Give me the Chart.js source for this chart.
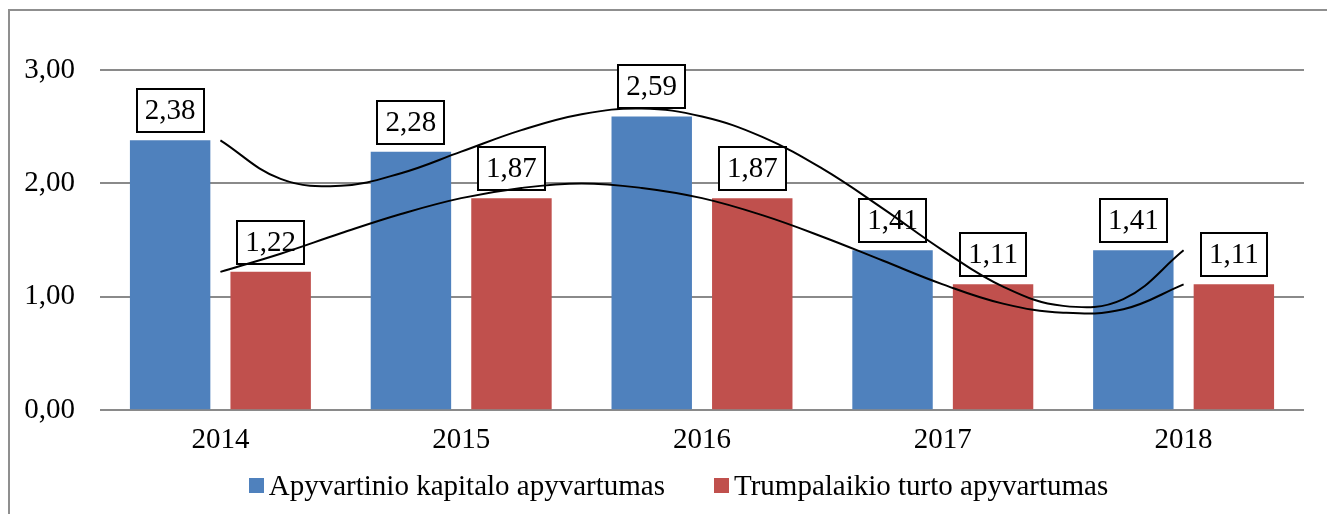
<!DOCTYPE html>
<html>
<head>
<meta charset="utf-8">
<script src="https://cdn.jsdelivr.net/npm/chart.js@4.4.1/dist/chart.umd.min.js"></script>
<style>
  html, body { margin: 0; padding: 0; background: #fff; overflow: hidden; }
  #frame { position: absolute; left: 8px; top: 9px; width: 2000px; height: 2000px; border: 2px solid #8f8f8f; }
  #wrap { position: absolute; left: 0; top: 0; width: 1327px; height: 514px; }
</style>
</head>
<body>
<div id="frame"></div>
<div id="wrap"><canvas id="chart" width="1327" height="514"></canvas></div>
<script>
// categories and values
var years = ['2014', '2015', '2016', '2017', '2018'];
var kapitalas = [2.38, 2.28, 2.59, 1.41, 1.41];
var turtas = [1.22, 1.87, 1.87, 1.11, 1.11];
var seriesNames = ['Apyvartinio kapitalo apyvartumas', 'Trumpalaikio turto apyvartumas'];
var seriesColors = ['#4F81BD', '#C0504D'];

// trend curves, every quarter of a category
var trendX = [0, 0.25, 0.5, 0.75, 1, 1.25, 1.5, 1.75, 2, 2.25, 2.5, 2.75, 3, 3.25, 3.5, 3.75, 4];
var kapitalasTrend = [2.38, 2.04, 1.98, 2.09, 2.28, 2.47, 2.61, 2.66, 2.59, 2.41, 2.13, 1.78, 1.41, 1.09, 0.92, 0.98, 1.41];
var turtasTrend = [1.22, 1.38, 1.56, 1.73, 1.87, 1.96, 2.00, 1.96, 1.87, 1.72, 1.53, 1.32, 1.11, 0.94, 0.86, 0.89, 1.11];

// y axis ticks
var yTicks = [0, 1, 2, 3];

var FONT = '"Liberation Serif", "Times New Roman", serif';

function fmt(v) {
  return v.toFixed(2).replace('.', ',');
}

Chart.defaults.font.family = FONT;
Chart.defaults.font.size = 29;
Chart.defaults.color = '#000';

// boxed value labels above the bars (drawn under the trend lines)
var labelBoxes = {
  id: 'labelBoxes',
  beforeDatasetsDraw: function(chart) {
    var ctx = chart.ctx;
    ctx.save();
    ctx.font = '29px ' + FONT;
    [0, 1].forEach(function(di) {
      var meta = chart.getDatasetMeta(di);
      meta.data.forEach(function(bar, i) {
        var txt = fmt(chart.data.datasets[di].data[i].y);
        var w = Math.round(ctx.measureText(txt).width + 16);
        var h = 43;
        var x = Math.round(bar.x - w / 2);
        var y = Math.round(bar.y - 8 - h);
        ctx.fillStyle = '#fff';
        ctx.fillRect(x, y, w, h);
        ctx.lineWidth = 2;
        ctx.strokeStyle = '#000';
        ctx.strokeRect(x, y, w, h);
        ctx.fillStyle = '#000';
        ctx.textAlign = 'center';
        ctx.textBaseline = 'middle';
        ctx.fillText(txt, bar.x, y + h / 2 + 1);
      });
    });
    ctx.restore();
  }
};

// legend under the axis labels
var bottomLegend = {
  id: 'bottomLegend',
  afterDraw: function(chart) {
    var ctx = chart.ctx;
    ctx.save();
    ctx.font = '29px ' + FONT;
    var box = 15, gapText = 5, gapItem = 49;
    var widths = seriesNames.map(function(t) { return ctx.measureText(t).width; });
    var total = box * 2 + gapText * 2 + widths[0] + widths[1] + gapItem;
    var x = chart.width / 2 + 15 - total / 2;
    var cy = 486;
    ctx.textBaseline = 'middle';
    ctx.textAlign = 'left';
    seriesNames.forEach(function(t, i) {
      ctx.fillStyle = seriesColors[i];
      ctx.fillRect(Math.round(x), cy - 8, box, box);
      ctx.fillStyle = '#000';
      ctx.fillText(t, x + box + gapText, cy + 1);
      x += box + gapText + widths[i] + gapItem;
    });
    ctx.restore();
  }
};

function points(xs, ys) {
  return xs.map(function(x, i) { return { x: x, y: ys[i] }; });
}

new Chart(document.getElementById('chart'), {
  type: 'bar',
  data: {
    datasets: [{
      label: seriesNames[0],
      data: points([0, 1, 2, 3, 4], kapitalas),
      backgroundColor: seriesColors[0],
      categoryPercentage: 0.835,
      barPercentage: 0.8,
      order: 2
    }, {
      label: seriesNames[1],
      data: points([0, 1, 2, 3, 4], turtas),
      backgroundColor: seriesColors[1],
      categoryPercentage: 0.835,
      barPercentage: 0.8,
      order: 2
    }, {
      type: 'line',
      label: 'trend1',
      data: points(trendX, kapitalasTrend),
      borderColor: '#000',
      borderWidth: 2,
      pointRadius: 0,
      tension: 0.4,
      fill: false,
      order: 1
    }, {
      type: 'line',
      label: 'trend2',
      data: points(trendX, turtasTrend),
      borderColor: '#000',
      borderWidth: 2,
      pointRadius: 0,
      tension: 0.4,
      fill: false,
      order: 1
    }]
  },
  options: {
    responsive: false,
    animation: false,
    layout: { padding: { left: 0, right: 23, top: 70, bottom: 43 } },
    scales: {
      x: {
        type: 'linear',
        min: -0.5,
        max: 4.5,
        offset: false,
        afterBuildTicks: function(axis) {
          axis.ticks = years.map(function(y, i) { return { value: i }; });
        },
        grid: { display: false, drawTicks: false, offset: false },
        border: { display: false },
        ticks: {
          padding: 13,
          maxRotation: 0,
          callback: function(v) { return years[v]; }
        }
      },
      y: {
        min: 0,
        max: 3,
        afterBuildTicks: function(axis) {
          axis.ticks = yTicks.map(function(v) { return { value: v }; });
        },
        afterFit: function(axis) { axis.width = 100; },
        ticks: {
          padding: 25,
          callback: function(v) { return fmt(v); }
        },
        grid: { color: '#8a8a8a', lineWidth: 2, drawTicks: false },
        border: { display: false }
      }
    },
    plugins: {
      tooltip: { enabled: false },
      legend: { display: false }
    }
  },
  plugins: [labelBoxes, bottomLegend]
});
</script>
</body>
</html>
